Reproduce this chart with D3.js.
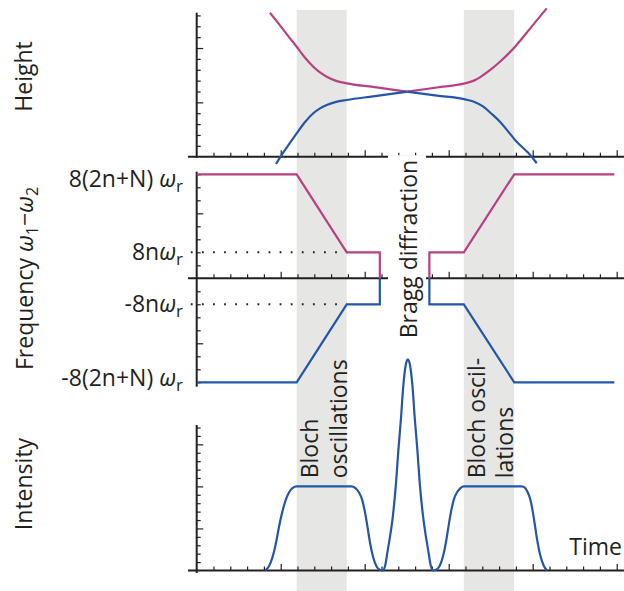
<!DOCTYPE html>
<html><head><meta charset="utf-8">
<script src="https://cdn.jsdelivr.net/npm/d3@7"></script>
<style>
body{margin:0;background:#fff}
svg{display:block}
text{font-family:"Open Sans",sans-serif;fill:#231f20}
</style>
</head><body>
<svg id="chart" width="624" height="591"></svg>
<script>
// ---------- data ----------
const timeDomain = [0, 25];
const blochBands = [[5.95, 8.93], [15.9, 18.9]];
const timeTicks = d3.range(1, 26);
const timeMajorTicks = [5, 10, 15, 20, 25];

// Height panel (band energies)
const heightUpperLeftT  = [4.36, 4.9, 5.45, 5.95, 6.45, 6.94, 7.34, 7.74, 8.3, 8.93, 10.5, 12.55];
const heightUpperLeft   = [13.25, 12.2, 11.1, 10.12, 9.1, 8.28, 7.75, 7.36, 6.98, 6.75, 6.42, 5.98];
const heightUpperRightT = [12.55, 14.3, 15.97, 16.5, 17.06, 17.55, 18.05, 18.95, 19.9, 20.83];
const heightUpperRight  = [5.98, 6.37, 6.75, 7.0, 7.52, 8.08, 8.74, 10.12, 11.9, 13.65];
const heightLowerLeftT  = [4.72, 5.06, 5.5, 5.95, 6.45, 6.94, 7.34, 7.74, 8.3, 8.93, 10.5, 12.55];
const heightLowerLeft   = [-0.67, 0.16, 1.15, 2.15, 3.2, 4.0, 4.45, 4.76, 5.05, 5.22, 5.55, 5.98];
const heightLowerRightT = [12.55, 14.3, 15.97, 16.5, 17.06, 17.55, 18.05, 18.5, 18.95, 19.94, 20.24];
const heightLowerRight  = [5.98, 5.62, 5.28, 5.05, 4.6, 3.95, 3.22, 2.4, 1.54, 0, -0.6];
const heightTicks = d3.range(1, 14);
const heightMajorTicks = [5, 10];

// Frequency panel
const freqT     = [0, 5.95, 8.93, 10.9, 10.9, null, 13.85, 13.85, 15.9, 18.9, 24.86];
const freqUpper = [8, 8, 2, 2, 0, null, 0, 2, 2, 8, 8];
const freqLower = [-8, -8, -2, -2, 0, null, 0, -2, -2, -8, -8];
const freqTicks = [-8, -7, -6, -5, -4, -3, -2, -1, 1, 2, 3, 4, 5, 6, 7, 8];
const freqMajorTicks = [-5, 5];
const freqLevels = [8, 2, -2, -8];
const freqLabelMain = ["8(2n+N) ", "8n", "-8n", "-8(2n+N) "];
const freqLabelSymbol = ["ω", "ω", "ω", "ω"];
const freqLabelSub = ["r", "r", "r", "r"];
const dottedLevels = [2, -2];
const dottedRange = [-0.35, 8.93];

// Intensity panel
const intensityT = [4.07, 4.3, 4.5, 4.7, 4.9, 5.1, 5.3, 5.5, 5.7, 5.95,
  9.2, 9.45, 9.65, 9.85, 10.0, 10.15, 10.3, 10.5, 10.7, 10.9, 11.07,
  11.22, 11.37, 11.52, 11.67, 11.86, 12.0, 12.16, 12.3, 12.44, 12.57, 12.7, 12.84, 12.98, 13.14, 13.28, 13.48, 13.63, 13.78, 13.93, 14.07,
  14.25, 14.45, 14.65, 14.85, 15.0, 15.15, 15.3, 15.5, 15.7, 15.9,
  19.35, 19.55, 19.7, 19.85, 19.95, 20.1, 20.27, 20.45, 20.65, 20.85];
const intensityI = [0, 0.5, 1.5, 3.1, 5.2, 7.0, 8.4, 9.3, 9.8, 10,
  10, 9.8, 9.3, 8.4, 7.1, 5.4, 3.5, 1.6, 0.5, 0.08, 0,
  0.6, 2.4, 4.2, 6.35, 10.3, 14.2, 18.1, 22, 24.4, 25.1, 24.4, 22, 18.1, 14.2, 10.3, 6.35, 4.2, 2.4, 0.6, 0,
  0.08, 0.5, 1.6, 3.5, 5.4, 7.1, 8.4, 9.3, 9.8, 10,
  10, 9.8, 9.3, 8.5, 7.6, 5.8, 3.6, 1.8, 0.6, 0];
const intensityTicks = d3.range(1, 18);
const intensityMajorTicks = [5, 10, 15];

// ---------- drawing ----------
const MAGENTA = "#b7417f", BLUE = "#2356a8", INK = "#231f20", BAND = "#e6e6e5";
const svg = d3.select("#chart");

const x = d3.scaleLinear().domain(timeDomain).range([196.7, 616.7]);
const yH = d3.scaleLinear().domain([0, 13.25]).range([156.7, 12.7]);
const yF = d3.scaleLinear().domain([-8.34, 8.2]).range([386.7, 171.7]);
const yI = d3.scaleLinear().domain([0, 17.3]).range([570.5, 425]);

// Bloch bands
svg.append("g").selectAll("rect").data(blochBands).join("rect")
  .attr("x", d => x(d[0])).attr("width", d => x(d[1]) - x(d[0]))
  .attr("y", 10).attr("height", 581).attr("fill", BAND);

function xAxis(yPos) {
  const g = svg.append("g");
  g.append("g").attr("transform", `translate(0,${yPos})`)
    .call(d3.axisTop(x).tickValues(timeTicks.filter(t => !timeMajorTicks.includes(t))).tickSize(4).tickFormat("").tickSizeOuter(0))
    .call(s => s.select(".domain").remove());
  g.append("g").attr("transform", `translate(0,${yPos})`)
    .call(d3.axisTop(x).tickValues(timeMajorTicks).tickSize(6.5).tickFormat("").tickSizeOuter(0))
    .call(s => s.select(".domain").remove());
  g.selectAll("line").attr("stroke", INK).attr("stroke-width", 1.2);
  g.append("line").attr("x1", x(-0.52)).attr("x2", 624).attr("y1", yPos).attr("y2", yPos)
    .attr("stroke", INK).attr("stroke-width", 2);
}
function yAxis(scale, ticks, majors, yTop, yBottom) {
  const g = svg.append("g");
  g.append("g").attr("transform", `translate(${x(0)},0)`)
    .call(d3.axisRight(scale).tickValues(ticks.filter(t => !majors.includes(t))).tickSize(4).tickFormat("").tickSizeOuter(0))
    .call(s => s.select(".domain").remove());
  g.append("g").attr("transform", `translate(${x(0)},0)`)
    .call(d3.axisRight(scale).tickValues(majors).tickSize(6.5).tickFormat("").tickSizeOuter(0))
    .call(s => s.select(".domain").remove());
  g.selectAll("line").attr("stroke", INK).attr("stroke-width", 1.2);
  g.append("line").attr("x1", x(0)).attr("x2", x(0)).attr("y1", yTop).attr("y2", yBottom)
    .attr("stroke", INK).attr("stroke-width", 2);
}

// Height panel axes
yAxis(yH, heightTicks, heightMajorTicks, yH(13.25), yH(-0.1));
xAxis(yH(0));
// Frequency panel axes
yAxis(yF, freqTicks, freqMajorTicks, yF.range()[1], yF.range()[0]);
xAxis(yF(0));
// Intensity panel axes
yAxis(yI, intensityTicks, intensityMajorTicks, yI(17.3), yI(-0.3));
xAxis(yI(0));

// dotted guide lines
svg.append("g").selectAll("line").data(dottedLevels).join("line")
  .attr("x1", x(dottedRange[0])).attr("x2", x(dottedRange[1]))
  .attr("y1", d => yF(d)).attr("y2", d => yF(d))
  .attr("stroke", INK).attr("stroke-width", 2).attr("stroke-dasharray", "1.8 9.3");

// Height curves
const hLine = d3.line().x(d => x(d[0])).y(d => yH(d[1])).curve(d3.curveMonotoneX);
const zip = (a, b) => a.map((v, i) => [v, b[i]]);
[[heightUpperLeftT, heightUpperLeft, MAGENTA], [heightUpperRightT, heightUpperRight, MAGENTA],
 [heightLowerLeftT, heightLowerLeft, BLUE], [heightLowerRightT, heightLowerRight, BLUE]].forEach(([t, v, c]) => {
  svg.append("path").attr("d", hLine(zip(t, v))).attr("fill", "none").attr("stroke", c).attr("stroke-width", 2.2);
});

// Frequency lines
const fLine = d3.line().defined(d => d[0] !== null && d[1] !== null).x(d => x(d[0])).y(d => yF(d[1]));
svg.append("path").attr("d", fLine(zip(freqT, freqLower))).attr("fill", "none").attr("stroke", BLUE).attr("stroke-width", 2.2);
svg.append("path").attr("d", fLine(zip(freqT, freqUpper))).attr("fill", "none").attr("stroke", MAGENTA).attr("stroke-width", 2.2);

// Intensity
const iLine = d3.line().x(d => x(d[0])).y(d => yI(d[1])).curve(d3.curveMonotoneX);
svg.append("path").attr("d", iLine(zip(intensityT, intensityI))).attr("fill", "none").attr("stroke", BLUE).attr("stroke-width", 2.2);

// White box behind "Bragg diffraction"
svg.append("rect").attr("x", 388).attr("y", 155.2).attr("width", 38).attr("height", 195).attr("fill", "#fff");

// Frequency tick labels
freqLevels.forEach((lv, i) => {
  const nudge = i === 0 ? 4.8 : (i === freqLevels.length - 1 ? -4.7 : 0);
  const t = svg.append("text").attr("x", 183).attr("y", yF(lv) + nudge + 8.2)
    .attr("text-anchor", "end").style("font-size", "23px");
  t.append("tspan").text(freqLabelMain[i]);
  t.append("tspan").attr("font-style", "italic").text(freqLabelSymbol[i]);
  t.append("tspan").attr("dy", 5).style("font-size", "17px").text(freqLabelSub[i]);
});

// Rotated labels
function vtext(tx, ty, str, anchor) {
  return svg.append("text").attr("transform", `translate(${tx},${ty}) rotate(-90)`)
    .attr("text-anchor", anchor || "start").style("font-size", "23px").text(str);
}
vtext(32.3, 76.5, "Height", "middle");
vtext(31.7, 484, "Intensity", "middle");
const fq = svg.append("text").attr("transform", "translate(33.3,370) rotate(-90)").style("font-size", "23px");
fq.append("tspan").text("Frequency ");
fq.append("tspan").attr("font-style", "italic").text("ω");
fq.append("tspan").attr("dy", 5).style("font-size", "16px").text("1");
fq.append("tspan").attr("dy", -5).text("−");
fq.append("tspan").attr("font-style", "italic").text("ω");
fq.append("tspan").attr("dy", 5).style("font-size", "16px").text("2");

vtext(416.7, 338.3, "Bragg diffraction");
vtext(318.3, 478.3, "Bloch");
vtext(346.7, 478.3, "oscillations");
vtext(485, 478.3, "Bloch oscil-");
vtext(513.3, 478.3, "lations");
svg.append("text").attr("x", 622).attr("y", 555).attr("text-anchor", "end").style("font-size", "23px").text("Time");
</script>
</body></html>
